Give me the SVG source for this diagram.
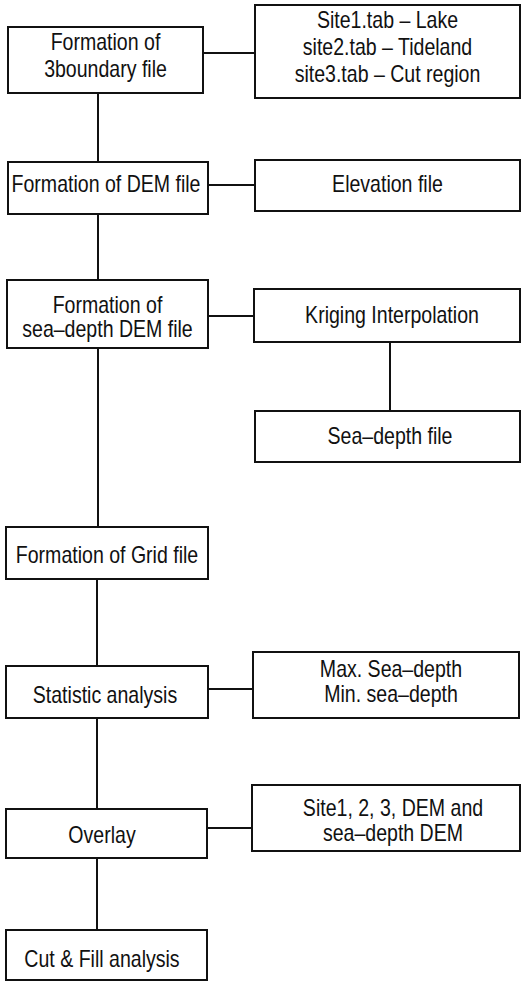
<svg xmlns="http://www.w3.org/2000/svg" width="524" height="981" viewBox="0 0 524 981">
<style>
.box{fill:#fff;stroke:#111;stroke-width:2}
.ln{stroke:#111;stroke-width:2;fill:none}
text{font-family:"Liberation Sans",Arial,sans-serif;font-size:23px;fill:#111;text-anchor:middle;transform-box:fill-box;transform-origin:center;transform:scaleX(0.85)}
</style>
<rect width="524" height="981" fill="#fff"/>
<g id="connectors">
<line class="ln" x1="203" y1="53" x2="255" y2="53"/>
<line class="ln" x1="98" y1="93" x2="98" y2="162"/>
<line class="ln" x1="208" y1="185" x2="255" y2="185"/>
<line class="ln" x1="98" y1="214" x2="98" y2="280"/>
<line class="ln" x1="208" y1="316" x2="254" y2="316"/>
<line class="ln" x1="390" y1="342" x2="390" y2="411"/>
<line class="ln" x1="98" y1="348" x2="98" y2="527"/>
<line class="ln" x1="97" y1="579" x2="97" y2="666"/>
<line class="ln" x1="208" y1="689" x2="253" y2="689"/>
<line class="ln" x1="97" y1="718" x2="97" y2="809"/>
<line class="ln" x1="207" y1="828" x2="252" y2="828"/>
<line class="ln" x1="97" y1="858" x2="97" y2="930"/>
</g>
<g id="n1"><rect class="box" x="8" y="27" width="195" height="66"/><text x="105.5" y="50">Formation of</text><text x="105.5" y="77">3boundary file</text></g>
<g id="n2"><rect class="box" x="255" y="5" width="265" height="93"/><text x="387.5" y="28">Site1.tab – Lake</text><text x="387.5" y="55">site2.tab – Tideland</text><text x="387.5" y="82">site3.tab – Cut region</text></g>
<g id="n3"><rect class="box" x="8" y="162" width="200" height="52"/><text x="106" y="192">Formation of DEM file</text></g>
<g id="n4"><rect class="box" x="255" y="160" width="265" height="51"/><text x="387.5" y="192">Elevation file</text></g>
<g id="n5"><rect class="box" x="7" y="280" width="201" height="68"/><text x="107.5" y="313">Formation of</text><text x="107.5" y="337">sea–depth DEM file</text></g>
<g id="n6"><rect class="box" x="254" y="289" width="266" height="53"/><text x="392" y="323">Kriging Interpolation</text></g>
<g id="n7"><rect class="box" x="255" y="411" width="265" height="51"/><text x="390" y="444">Sea–depth file</text></g>
<g id="n8"><rect class="box" x="6" y="527" width="202" height="52"/><text x="107" y="563">Formation of Grid file</text></g>
<g id="n9"><rect class="box" x="6" y="666" width="202" height="52"/><text x="105" y="703">Statistic analysis</text></g>
<g id="n10"><rect class="box" x="253" y="652" width="266" height="66"/><text x="391" y="677">Max. Sea–depth</text><text x="391" y="702">Min. sea–depth</text></g>
<g id="n11"><rect class="box" x="6" y="809" width="201" height="49"/><text x="102" y="843">Overlay</text></g>
<g id="n12"><rect class="box" x="252" y="785" width="268" height="66"/><text x="393" y="816">Site1, 2, 3, DEM and</text><text x="393" y="841">sea–depth DEM</text></g>
<g id="n13"><rect class="box" x="6" y="930" width="201" height="50"/><text x="102" y="967">Cut &amp; Fill analysis</text></g>
</svg>
